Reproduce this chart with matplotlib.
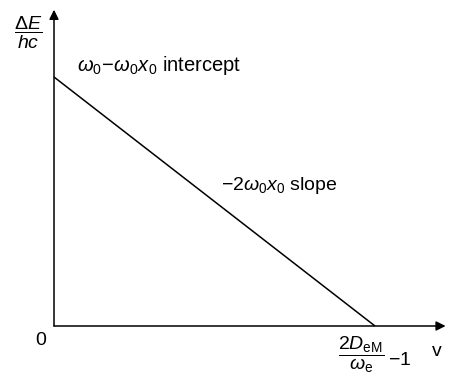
import matplotlib.pyplot as plt

plt.rcParams['font.family'] = ['Liberation Sans', 'DejaVu Sans']
plt.rcParams['mathtext.fontset'] = 'custom'
plt.rcParams['mathtext.rm'] = 'Liberation Sans'
plt.rcParams['mathtext.it'] = 'Liberation Sans:italic'
plt.rcParams['mathtext.bf'] = 'Liberation Sans:bold'

# Birge-Sponer plot: energy spacing falls linearly with v
v = [0.0, 1.0]
dE = [1.0, 0.0]

fig = plt.figure(figsize=(4.49, 3.83), dpi=100)
ax = fig.add_axes([0, 0, 1, 1])
ax.set_xlim(-54 / 321, (449 - 54) / 321)
ax.set_ylim(-(383 - 326) / 249, 326 / 249)
ax.axis('off')

arrow = dict(arrowstyle='-|>', color='black', lw=1.1, mutation_scale=14,
             shrinkA=0, shrinkB=0)
ax.annotate('', xy=(0, 1.27), xytext=(0, 0), arrowprops=arrow)
ax.annotate('', xy=(1.22, 0), xytext=(0, 0), arrowprops=arrow)

ax.plot(v, dE, color='black', lw=1.1, solid_capstyle='butt')

fs = 14
ax.text(-0.081, 1.177, r'$\dfrac{\Delta E}{hc}$', fontsize=fs,
        ha='center', va='center')
ax.text(0.072, 1.045, r'$\omega_0\!-\!\omega_0x_0$ intercept', fontsize=fs + 0.5,
        ha='left', va='center')
ax.text(0.52, 0.566, r'$-2\omega_0x_0$ slope', fontsize=fs,
        ha='left', va='center')
ax.text(-0.04, -0.06, '0', fontsize=fs, ha='center', va='center')
ax.text(1.193, -0.104, 'v', fontsize=fs, ha='center', va='center')
ax.text(0.956, -0.118, r'$\dfrac{2D_{\mathrm{eM}}}{\omega_{\mathrm{e}}}$', fontsize=fs,
        ha='center', va='center')
ax.text(1.04, -0.137, r'$-1$', fontsize=fs, ha='left', va='center')

fig.savefig('out.png', dpi=100)
